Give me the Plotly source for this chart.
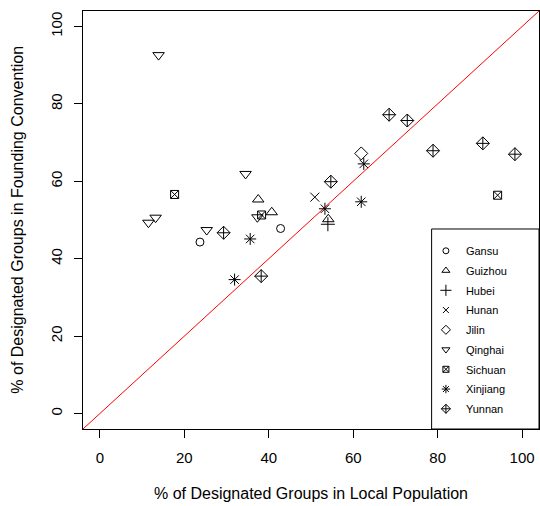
import plotly.graph_objects as go

provinces = ["Gansu", "Guizhou", "Hubei", "Hunan", "Jilin", "Qinghai", "Sichuan", "Xinjiang", "Yunnan"]

gansu_x = [23.7, 42.8]
gansu_y = [44.3, 47.8]
guizhou_x = [37.5, 40.7, 54.1]
guizhou_y = [55.3, 52.0, 50.2]
hubei_x = [54.0]
hubei_y = [48.9]
hunan_x = [50.9]
hunan_y = [55.9]
jilin_x = [61.9]
jilin_y = [67.2]
qinghai_x = [13.9, 34.5, 13.2, 11.5, 25.3, 37.3]
qinghai_y = [92.6, 61.9, 50.6, 49.3, 47.4, 50.7]
sichuan_x = [17.7, 38.3, 94.2]
sichuan_y = [56.6, 51.3, 56.4]
xinjiang_x = [31.9, 35.6, 53.3, 61.9, 62.5]
xinjiang_y = [34.6, 45.1, 52.9, 54.7, 64.5]
yunnan_x = [29.3, 38.2, 54.7, 68.5, 72.8, 78.9, 90.7, 98.3]
yunnan_y = [46.7, 35.5, 59.9, 77.2, 75.7, 67.9, 69.8, 67.0]

xs = [gansu_x, guizhou_x, hubei_x, hunan_x, jilin_x, qinghai_x, sichuan_x, xinjiang_x, yunnan_x]
ys = [gansu_y, guizhou_y, hubei_y, hunan_y, jilin_y, qinghai_y, sichuan_y, xinjiang_y, yunnan_y]
symbols = ["circle-open", "triangle-up-open", "cross-thin-open", "x-thin-open", "diamond-open",
           "triangle-down-open", "square-x-open", "asterisk-open", "diamond-cross-open"]
sizes = [8, 10, 10, 9, 10, 10, 8, 10, 10]
legend_sizes = [6, 7, 8, 6, 7, 7, 6, 7, 7]

tick_vals = [0, 20, 40, 60, 80, 100]
axis_range = [-4, 104]
ref_line = [-4, 104]

FONT = "Liberation Sans, Arial, Helvetica, sans-serif"

fig = go.Figure()
for i, name in enumerate(provinces):
    fig.add_trace(go.Scatter(
        x=xs[i], y=ys[i], mode="markers", name=name, showlegend=False,
        marker=dict(symbol=symbols[i], size=sizes[i], color="black",
                    line=dict(color="black", width=1)),
        cliponaxis=False,
    ))
for i, name in enumerate(provinces):
    fig.add_trace(go.Scatter(
        x=[None], y=[None], mode="markers", name=name, legendgroup=name,
        marker=dict(symbol=symbols[i], size=legend_sizes[i], color="black",
                    line=dict(color="black", width=1)),
    ))

fig.add_shape(type="line", xref="x", yref="y",
              x0=ref_line[0], y0=ref_line[0], x1=ref_line[1], y1=ref_line[1],
              line=dict(color="#FF0000", width=1), layer="below")

# legend box
fig.add_shape(type="rect", xref="paper", yref="paper",
              x0=0.7645, x1=1.0, y0=0.0, y1=0.4785,
              line=dict(color="black", width=1), fillcolor="rgba(0,0,0,0)")

fig.update_layout(
    width=540, height=506,
    margin=dict(l=83, r=1, t=11, b=77),
    paper_bgcolor="white", plot_bgcolor="white",
    font=dict(family=FONT, size=15, color="black"),
    showlegend=True,
    legend=dict(x=0.752, y=0.461, xanchor="left", yanchor="top",
                bgcolor="rgba(0,0,0,0)", borderwidth=0,
                font=dict(size=11, family=FONT, color="black"),
                tracegroupgap=0.75, itemclick=False),
    xaxis=dict(range=axis_range, tickvals=tick_vals, ticks="outside", ticklen=8,
               tickcolor="black", showgrid=False, zeroline=False,
               showline=True, mirror=True, linecolor="black", linewidth=1,
               ticklabelstandoff=7, tickfont=dict(size=15)),
    yaxis=dict(range=axis_range, tickvals=tick_vals, ticks="outside", ticklen=8,
               tickcolor="black", showgrid=False, zeroline=False,
               showline=True, mirror=True, linecolor="black", linewidth=1,
               tickangle=-90, ticklabelstandoff=6, tickfont=dict(size=15)),
    annotations=[
        dict(text="% of Designated Groups in Local Population", xref="paper", yref="paper",
             x=0.5, y=-0.1555, xanchor="center", yanchor="middle", showarrow=False,
             font=dict(size=16)),
        dict(text="% of Designated Groups in Founding Convention", xref="paper", yref="paper",
             x=-0.1455, y=0.5, xanchor="center", yanchor="middle", showarrow=False,
             textangle=-90, font=dict(size=16)),
    ],
)

fig.write_html("out.html")
